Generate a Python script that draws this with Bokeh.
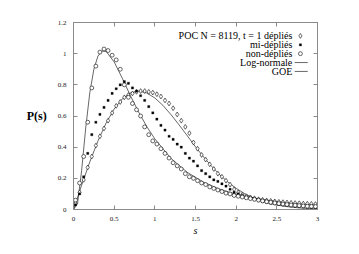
from bokeh.plotting import figure
from bokeh.models import Range1d, LinearAxis, FixedTicker, Label
from bokeh.embed import file_html
from bokeh.resources import INLINE

# ---- data ----
s_bins = [0.025, 0.075, 0.125, 0.175, 0.225, 0.275, 0.325, 0.375, 0.425, 0.475,
          0.525, 0.575, 0.625, 0.675, 0.725, 0.775, 0.825, 0.875, 0.925, 0.975,
          1.025, 1.075, 1.125, 1.175, 1.225, 1.275, 1.325, 1.375, 1.425, 1.475,
          1.525, 1.575, 1.625, 1.675, 1.725, 1.775, 1.825, 1.875, 1.925, 1.975,
          2.025, 2.075, 2.125, 2.175, 2.225, 2.275, 2.325, 2.375, 2.425, 2.475,
          2.525, 2.575, 2.625, 2.675, 2.725, 2.775, 2.825, 2.875, 2.925, 2.975]
p_deplies = [0.04, 0.11, 0.19, 0.27, 0.34, 0.41, 0.47, 0.52, 0.57, 0.62,
             0.665, 0.69, 0.72, 0.735, 0.745, 0.755, 0.76, 0.76, 0.755, 0.75,
             0.74, 0.725, 0.70, 0.68, 0.65, 0.61, 0.57, 0.53, 0.49, 0.43,
             0.39, 0.35, 0.32, 0.29, 0.26, 0.23, 0.21, 0.185, 0.16, 0.13,
             0.11, 0.095, 0.085, 0.078, 0.072, 0.066, 0.062, 0.058, 0.055, 0.052,
             0.049, 0.047, 0.045, 0.043, 0.041, 0.04, 0.038, 0.037, 0.036, 0.035]
p_mi = [0.03, 0.10, 0.21, 0.36, 0.48, 0.56, 0.61, 0.655, 0.70, 0.745,
        0.775, 0.80, 0.82, 0.81, 0.78, 0.76, 0.73, 0.70, 0.66, 0.62,
        0.58, 0.54, 0.51, 0.47, 0.45, 0.42, 0.40, 0.36, 0.33, 0.31,
        0.28, 0.25, 0.23, 0.21, 0.19, 0.18, 0.165, 0.15, 0.13, 0.11,
        0.10, 0.09, 0.08, 0.072, 0.064, 0.057, 0.051, 0.046, 0.041, 0.037,
        0.033, 0.030, 0.027, 0.024, 0.022, 0.02, 0.018, 0.016, 0.014, 0.012]
p_non = [0.06, 0.17, 0.34, 0.56, 0.78, 0.92, 1.01, 1.03, 1.02, 0.99,
         0.96, 0.90, 0.80, 0.72, 0.68, 0.64, 0.60, 0.53, 0.48, 0.44,
         0.42, 0.39, 0.36, 0.33, 0.30, 0.28, 0.26, 0.23, 0.21, 0.20,
         0.185, 0.17, 0.16, 0.145, 0.135, 0.125, 0.115, 0.105, 0.10, 0.09,
         0.085, 0.08, 0.075, 0.07, 0.065, 0.06, 0.055, 0.05, 0.046, 0.042,
         0.038, 0.035, 0.032, 0.029, 0.027, 0.025, 0.023, 0.021, 0.02, 0.019]
lognorm_s = [0, 0.05, 0.1, 0.15, 0.2, 0.25, 0.3, 0.35, 0.4, 0.5, 0.6, 0.7, 0.8,
             0.9, 1.0, 1.2, 1.4, 1.6, 1.8, 2.0, 2.2, 2.4, 2.6, 2.8, 3.0]
lognorm_p = [0, 0.038, 0.250, 0.522, 0.748, 0.899, 0.984, 1.017, 1.015, 0.947,
             0.842, 0.730, 0.626, 0.533, 0.453, 0.327, 0.238, 0.175, 0.130,
             0.098, 0.075, 0.058, 0.045, 0.035, 0.028]
goe_s = [0, 0.1, 0.2, 0.3, 0.4, 0.5, 0.6, 0.7, 0.8, 0.9, 1.0, 1.1, 1.2, 1.3,
         1.4, 1.5, 1.6, 1.7, 1.8, 1.9, 2.0, 2.1, 2.2, 2.3, 2.4, 2.5, 2.6, 2.7,
         2.8, 2.9, 3.0]
goe_p = [0, 0.156, 0.305, 0.439, 0.554, 0.645, 0.710, 0.748, 0.760, 0.748,
         0.716, 0.668, 0.608, 0.542, 0.472, 0.402, 0.337, 0.276, 0.222, 0.175,
         0.136, 0.103, 0.077, 0.057, 0.041, 0.029, 0.020, 0.014, 0.009, 0.006,
         0.004]
x_ticks = [0, 0.5, 1, 1.5, 2, 2.5, 3]
y_ticks = [0, 0.2, 0.4, 0.6, 0.8, 1.0, 1.2]
x_tick_labels = {0: "0", 0.5: "0.5", 1: "1", 1.5: "1.5", 2: "2", 2.5: "2.5", 3: "3"}
y_tick_labels = {0: "0", 0.2: "0.2", 0.4: "0.4", 0.6: "0.6", 0.8: "0.8", 1.0: "1", 1.2: "1.2"}
legend_texts = ["POC N = 8119, t = 1 dépliés", "mi-dépliés", "non-dépliés",
                "Log-normale", "GOE"]
x_title = "s"
y_title = "P(s)"

FONT = "Liberation Serif"
GRAY = "#8a8a8a"

p = figure(width=343, height=238, output_backend="svg", toolbar_location=None,
           x_range=Range1d(0, 3), y_range=Range1d(0, 1.2),
           min_border_left=73, min_border_right=26, min_border_top=22,
           min_border_bottom=27, x_axis_location=None, y_axis_location=None)
p.grid.visible = False
p.outline_line_color = GRAY
p.outline_line_width = 1
p.background_fill_color = "white"
p.border_fill_color = "white"

def make_axis(ticks, overrides, standoff):
    ax = LinearAxis(ticker=FixedTicker(ticks=ticks))
    ax.axis_line_color = GRAY
    ax.major_tick_line_color = GRAY
    ax.major_tick_in = 4
    ax.major_tick_out = 0
    ax.minor_tick_line_color = None
    ax.major_label_text_font = FONT
    ax.major_label_text_font_size = "7px"
    ax.major_label_text_color = "#222222"
    ax.major_label_overrides = overrides
    ax.major_label_standoff = standoff
    return ax

bottom = make_axis(x_ticks, x_tick_labels, 7)
bottom.axis_label = x_title
bottom.axis_label_text_font = FONT
bottom.axis_label_text_font_style = "italic"
bottom.axis_label_text_font_size = "10px"
bottom.axis_label_text_color = "black"
bottom.axis_label_standoff = 1
left = make_axis(y_ticks, y_tick_labels, 7)
left.axis_label = y_title
left.axis_label_orientation = "horizontal"
left.axis_label_text_font = FONT
left.axis_label_text_font_style = "bold"
left.axis_label_text_font_size = "12px"
left.axis_label_text_color = "black"
left.axis_label_standoff = 8
p.add_layout(bottom, "below")
p.add_layout(make_axis(x_ticks, {t: "" for t in x_ticks}, 0), "above")
p.add_layout(left, "left")
p.add_layout(make_axis(y_ticks, {t: "" for t in y_ticks}, 0), "right")

# curves first, then markers (white-filled) on top, as in the reference
p.line(lognorm_s, lognorm_p, line_color="black", line_width=0.6)
p.line(goe_s, goe_p, line_color="black", line_width=0.6)
p.scatter(s_bins, p_deplies, marker="diamond", size=4.8, fill_color="white",
          line_color="black", line_width=0.6)
p.scatter(s_bins, p_mi, marker="square", size=2.2, fill_color="black",
          line_color="black", line_width=0.3)
p.scatter(s_bins, p_non, marker="circle", size=3.9, fill_color="white",
          line_color="black", line_width=0.6)

# legend: texts right-aligned, keys to their right
leg_y = [1.114, 1.057, 1.0, 0.943, 0.886]
for txt, yy in zip(legend_texts, leg_y):
    p.add_layout(Label(x=2.69, y=yy, text=txt, text_align="right",
                       text_baseline="middle", text_font=FONT,
                       text_font_size="10px", text_color="black"))
key_x = 2.79
p.scatter([key_x], [leg_y[0]], marker="diamond", size=4.8, fill_color=None,
          line_color="black", line_width=0.6)
p.scatter([key_x], [leg_y[1]], marker="square", size=2.2, fill_color="black",
          line_color="black", line_width=0.3)
p.scatter([key_x], [leg_y[2]], marker="circle", size=3.9, fill_color=None,
          line_color="black", line_width=0.6)
p.segment(x0=[2.72, 2.72], y0=leg_y[3:], x1=[2.88, 2.88], y1=leg_y[3:],
          line_color="black", line_width=0.6)

open("out.html", "w").write(file_html(p, INLINE))
